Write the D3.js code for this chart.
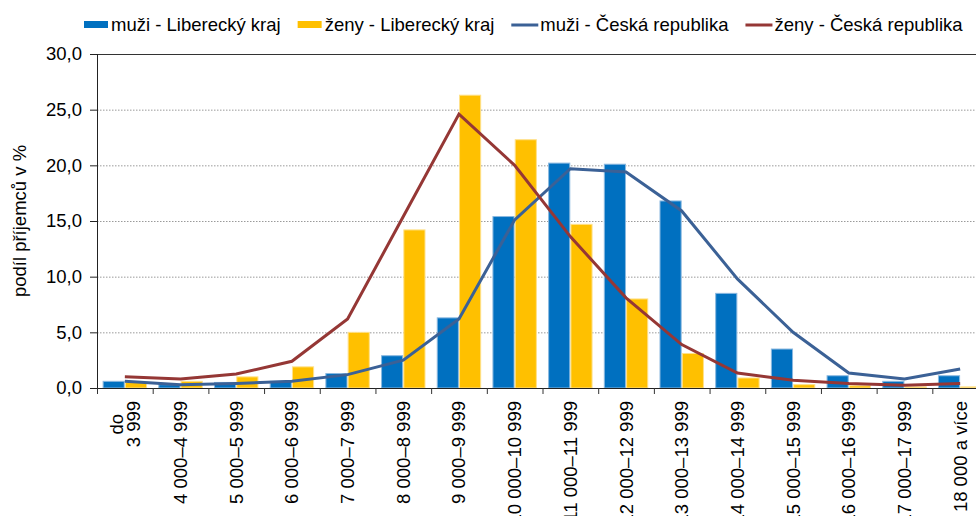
<!DOCTYPE html>
<meta charset="utf-8">
<style>
    body { margin: 0; background: #fff; }
    text { font-family: "Liberation Sans", Arial, sans-serif; font-size: 18.5px; fill: #000; }
    .grid line { stroke: #9a9a9a; stroke-dasharray: 1.5,1.5; }
</style>
<svg width="976" height="516"></svg>
<script src="https://d3js.org/d3.v7.min.js"></script>
<script>

    var categories = ["do\n3 999", "4 000–4 999", "5 000–5 999", "6 000–6 999", "7 000–7 999",
        "8 000–8 999", "9 000–9 999", "10 000–10 999", "11 000–11 999", "12 000–12 999",
        "13 000–13 999", "14 000–14 999", "15 000–15 999", "16 000–16 999", "17 000–17 999",
        "18 000 a více"];

    var muziLK = [0.6, 0.3, 0.5, 0.6, 1.3, 2.9, 6.3, 15.4, 20.2, 20.1, 16.8, 8.5, 3.5, 1.1, 0.6, 1.1];
    var zenyLK = [0.5, 0.6, 1.0, 1.9, 5.0, 14.2, 26.3, 22.3, 14.7, 8.0, 3.1, 0.9, 0.3, 0.2, 0.1, 0.1];
    var muziCR = [0.6, 0.3, 0.4, 0.6, 1.2, 2.5, 6.2, 15.1, 19.7, 19.4, 15.9, 9.8, 5.0, 1.35, 0.8, 1.7];
    var zenyCR = [1.0, 0.8, 1.25, 2.4, 6.2, 15.4, 24.6, 20.0, 13.6, 8.1, 3.9, 1.35, 0.7, 0.4, 0.25, 0.4];

    var yTicks = [0, 5, 10, 15, 20, 25, 30];
    var seriesNames = ["muži - Liberecký kraj", "ženy - Liberecký kraj", "muži - Česká republika", "ženy - Česká republika"];

    var svg = d3.select("svg");
    var plotL = 97, plotR = 988, plotT = 54, plotB = 388;

    var x0 = d3.scaleBand().domain(categories).range([plotL, plotR]).padding(0);
    var x1 = d3.scaleBand().domain([0, 1]).range([0, x0.bandwidth()])
        .paddingInner(0.05).paddingOuter(0.275);
    var y = d3.scaleLinear().domain([0, 30]).range([plotB, plotT]);

    var fmt = function (v) { return d3.format(".1f")(v).replace(".", ","); };

    // grid
    svg.append("g").attr("class", "grid")
        .selectAll("line").data(yTicks.filter(function (d) { return d > 0 && d < 30; }))
        .enter().append("line")
        .attr("x1", plotL).attr("x2", 976)
        .attr("y1", function (d) { return y(d) + 0.5; })
        .attr("y2", function (d) { return y(d) + 0.5; });
    svg.append("line").attr("x1", plotL).attr("x2", 976)
        .attr("y1", y(30) + 0.5).attr("y2", y(30) + 0.5).attr("stroke", "#333");

    // bars
    var colors = ["#0070c0", "#ffc000"];
    var edges = ["#8ab8e0", "#ffe18a"];
    [muziLK, zenyLK].forEach(function (vals, s) {
        svg.append("g").selectAll("rect").data(vals).enter().append("rect")
            .attr("x", function (d, i) { return x0(categories[i]) + x1(s); })
            .attr("width", x1.bandwidth())
            .attr("y", function (d) { return y(d); })
            .attr("height", function (d) { return plotB - y(d); })
            .attr("fill", colors[s])
            .attr("stroke", edges[s]).attr("stroke-width", 1);
    });

    // lines
    var lineColors = ["#3b6196", "#953735"];
    var line = d3.line()
        .x(function (d, i) { return x0(categories[i]) + x0.bandwidth() / 2; })
        .y(function (d) { return y(d); });
    [muziCR, zenyCR].forEach(function (vals, s) {
        svg.append("path").datum(vals)
            .attr("d", line)
            .attr("fill", "none")
            .attr("stroke", lineColors[s])
            .attr("stroke-width", 3)
            .attr("stroke-linejoin", "miter");
    });

    // y axis
    var yAxis = svg.append("g").attr("transform", "translate(" + plotL + ",0)")
        .call(d3.axisLeft(y).tickValues(yTicks).tickSize(7).tickPadding(8).tickFormat(fmt));
    yAxis.select(".domain").attr("stroke", "#222").attr("d", "M0.5," + plotT + "V" + (plotB + 6));
    yAxis.selectAll(".tick line").attr("stroke", "#222");
    yAxis.selectAll("text").style("font-size", "18.5px").attr("fill", "#000");
    yAxis.attr("font-family", null).attr("font-size", null);

    // x axis
    var xg = svg.append("g");
    xg.append("line").attr("x1", plotL).attr("x2", 976)
        .attr("y1", plotB + 0.5).attr("y2", plotB + 0.5).attr("stroke", "#222");
    xg.selectAll(".xt").data(d3.range(categories.length + 1)).enter().append("line")
        .attr("x1", function (i) { return plotL + i * x0.bandwidth() + 0.5; })
        .attr("x2", function (i) { return plotL + i * x0.bandwidth() + 0.5; })
        .attr("y1", plotB).attr("y2", plotB + 6).attr("stroke", "#333");

    var labelTop = 401;
    categories.forEach(function (c) {
        var cx = x0(c) + x0.bandwidth() / 2;
        var parts = c.split("\n");
        var t = xg.append("text")
            .attr("transform", "translate(" + cx + "," + labelTop + ") rotate(-90)");
        if (parts.length === 1) {
            t.attr("text-anchor", "end").attr("dy", "0.35em").text(c);
        } else {
            var tsp = parts.map(function (p, k) {
                return t.append("tspan").attr("text-anchor", "middle")
                    .attr("x", 0).attr("y", (k - (parts.length - 1) / 2) * 17.5)
                    .attr("dy", "0.35em").text(p);
            });
            var w = d3.max(tsp, function (s) { return s.node().getComputedTextLength(); });
            tsp.forEach(function (s) { s.attr("x", -w / 2); });
        }
    });

    // axis title
    svg.append("text")
        .attr("transform", "translate(20," + ((plotT + plotB) / 2) + ") rotate(-90)")
        .attr("text-anchor", "middle").attr("dy", "0.35em")
        .text("podíl příjemců v %");

    // legend
    var lg = svg.append("g");
    var lx = 84, ly = 25;
    seriesNames.forEach(function (name, i) {
        if (i < 2) {
            lg.append("rect").attr("x", lx).attr("y", ly - 4).attr("width", 24).attr("height", 7)
                .attr("fill", colors[i]);
        } else {
            lg.append("line").attr("x1", lx).attr("x2", lx + 27)
                .attr("y1", ly).attr("y2", ly)
                .attr("stroke", lineColors[i - 2]).attr("stroke-width", 3);
        }
        var tx = lx + (i < 2 ? 27 : 29);
        var t = lg.append("text").attr("x", tx).attr("y", ly).attr("dy", "0.35em").text(name);
        lx = tx + t.node().getComputedTextLength() + 17;
    });

</script>
